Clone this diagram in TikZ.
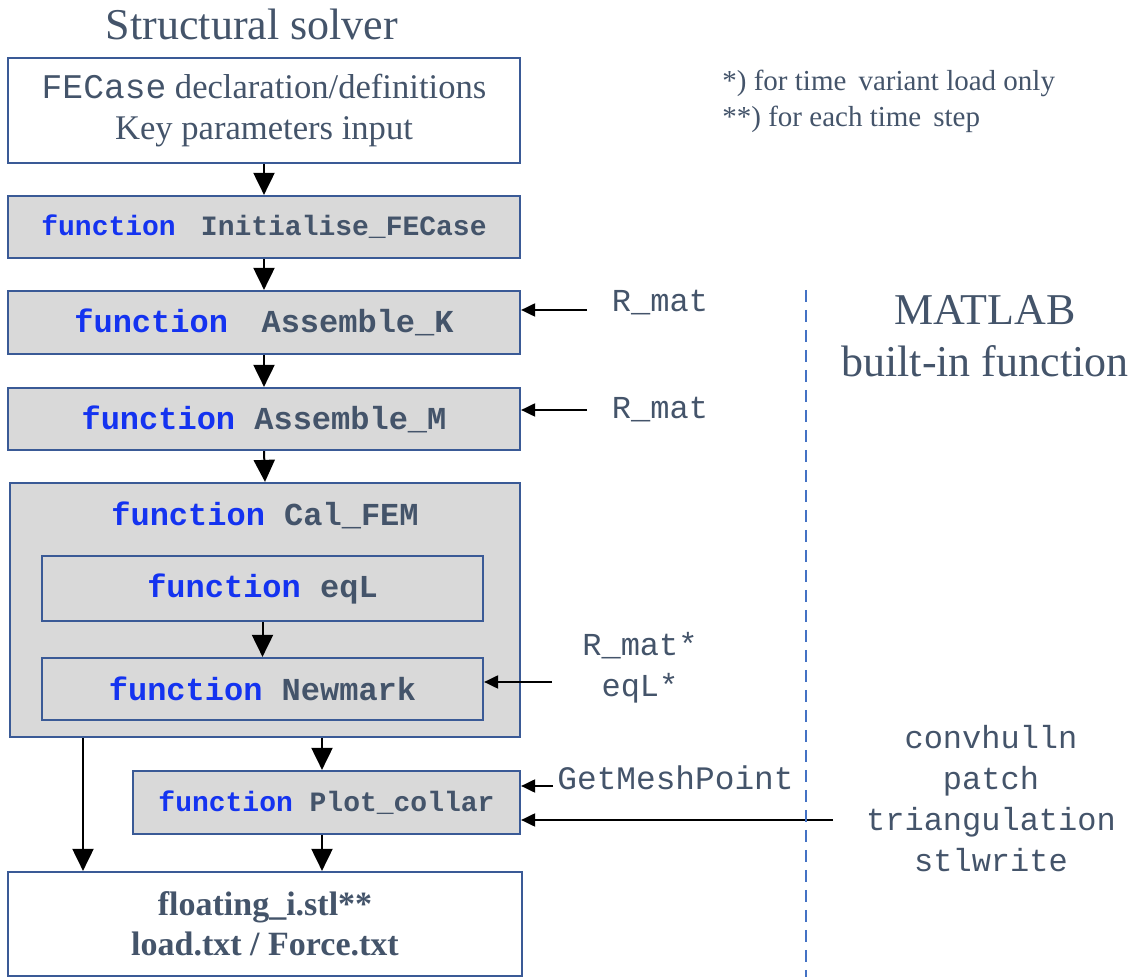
\documentclass[tikz,border=0pt]{standalone}
\usepackage{fontspec}
\setmainfont{Liberation Serif}
\setmonofont{Liberation Mono}
\usetikzlibrary{arrows.meta,calc}
\definecolor{txt}{HTML}{44546A}
\definecolor{bord}{HTML}{3A5A96}
\definecolor{fillg}{HTML}{D9D9D9}
\definecolor{kw}{HTML}{1433F0}
\definecolor{dashblue}{HTML}{4472C4}
\newcommand{\kwf}{\textcolor{kw}{function}}
\begin{document}
\begin{tikzpicture}[x=0.5pt,y=-0.5pt,
  box/.style={draw=bord, line width=1.1pt, inner sep=0pt, text=txt, align=center},
  fbox/.style={box, fill=fillg},
  arr/.style={-{Triangle[width=10.5pt,length=11pt]}, line width=1pt},
  sarr/.style={-{Triangle[width=6.5pt,length=7pt]}, line width=1pt},
  fn/.style={font=\fontsize{16}{19}\selectfont\ttfamily\bfseries, text=txt},
  lbl/.style={font=\fontsize{16}{20.5}\selectfont\ttfamily, text=txt, align=center, inner sep=0pt}
]
\useasboundingbox (0,0) rectangle (1136,977);

% title
\node[text=txt, font=\fontsize{22}{26}\selectfont, inner sep=0pt] (title) at (252,24) {Structural solver};

% boxes
\node[box, minimum width=256pt, minimum height=52.5pt,
      font=\fontsize{17.3}{20.5}\selectfont] (top) at (264,110.5)
  {\texttt{FECase} declaration/definitions\\Key parameters input};
\node[fbox, minimum width=256pt, minimum height=31pt,
      font=\fontsize{14}{17}\selectfont\ttfamily\bfseries] (init) at (264,227)
  {\kwf\ \hspace{0.3em}Initialise\_FECase};
\node[fbox, minimum width=256pt, minimum height=31.5pt, fn] (asmk) at (264,322.5)
  {\kwf\ \hspace{0.45em}Assemble\_K};
\node[fbox, minimum width=256pt, minimum height=31pt, fn] (asmm) at (264,419)
  {\kwf\ Assemble\_M};
\node[fbox, minimum width=255pt, minimum height=127pt] (calfem) at (265,610) {};
\node[fn, inner sep=0pt] (calfemlbl) at (265,515) {\kwf\ Cal\_FEM};
\node[fbox, minimum width=220.5pt, minimum height=32.5pt, fn] (eql) at (262.5,588.5)
  {\kwf\ eqL};
\node[fbox, minimum width=220.5pt, minimum height=31pt, fn] (newmark) at (262.5,689)
  {\kwf\ Newmark};
\node[fbox, minimum width=193.5pt, minimum height=31.5pt,
      font=\fontsize{14}{17}\selectfont\ttfamily\bfseries] (plot) at (326.5,802.5)
  {\kwf\ Plot\_collar};
\node[box, minimum width=257pt, minimum height=52pt,
      font=\fontsize{17}{20}\selectfont\bfseries] (out) at (265,924)
  {floating\_i.stl**\\load.txt / Force.txt};

% main arrows
\draw[arr] (top.south) -- (init.north);
\draw[arr] (init.south) -- (asmk.north);
\draw[arr] (asmk.south) -- (asmm.north);
\draw[arr] (asmm.south) -- (calfem.north);
\draw[arr] (eql.south) -- (newmark.north);
\coordinate (la) at (83,0);
\draw[arr] (la |- calfem.south) -- (la |- out.north);
\coordinate (pa) at (322,0);
\draw[arr] (pa |- calfem.south) -- (pa |- plot.north);
\draw[arr] (pa |- plot.south) -- (pa |- out.north);

% side inputs
\node[lbl] (rmat1) at (660,303) {R\_mat};
\node[lbl] (rmat2) at (660,410) {R\_mat};
\node[lbl] (rmat3) at (640,668) {R\_mat*\\eqL*};
\node[lbl, anchor=west, font=\fontsize{16.4}{20.5}\selectfont\ttfamily] (gmp) at (557,778) {GetMeshPoint};
\node[lbl] (bif) at (991,799) {convhulln\\patch\\triangulation\\stlwrite};

\coordinate (r1) at (587,310);
\draw[sarr] (r1) -- (r1 -| asmk.east);
\coordinate (r2) at (587,410);
\draw[sarr] (r2) -- (r2 -| asmm.east);
\coordinate (r3) at (552,682);
\draw[sarr] (r3) -- (r3 -| newmark.east);
\coordinate (r4) at (553,786);
\draw[sarr] (r4) -- (r4 -| plot.east);
\coordinate (r5) at (833,820);
\draw[sarr] (r5) -- (r5 -| plot.east);

% divider
\draw[dashblue, line width=0.8pt, dash pattern=on 6pt off 4pt] (806,290) -- (806,977);
\node[text=txt, font=\fontsize{22}{26}\selectfont, align=center, inner sep=0pt] (matlab) at (985,336)
  {MATLAB\\built-in function};

% notes
\node[text=txt, font=\fontsize{14.5}{18}\selectfont, align=left, anchor=west, inner sep=0pt] (notes) at (722,101)
  {*) for time\, variant load only\\**) for each time\, step};
\end{tikzpicture}
\end{document}
